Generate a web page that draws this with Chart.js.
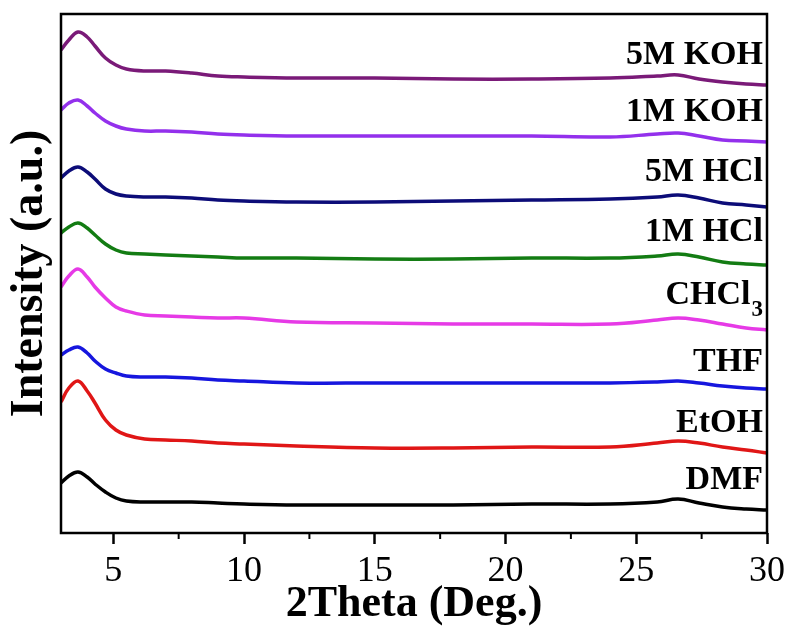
<!DOCTYPE html>
<html>
<head>
<meta charset="utf-8">
<title>XRD stability</title>
<script src="https://cdn.jsdelivr.net/npm/chart.js@4/dist/chart.umd.min.js"></script>
<style>
  html, body { margin: 0; padding: 0; background: #fff; }
  canvas { display: block; }
</style>
</head>
<body>
<canvas id="xrdChart" width="792" height="627"></canvas>
<script>
// Data ------------------------------------------------------------------------
const twoTheta = [3, 3.3, 3.65, 4.0, 4.3, 4.7, 5.1, 5.5, 6.2, 7, 8, 9, 10, 12, 15, 18, 21, 24, 25.8, 26.6, 27.4, 28.3, 29.2, 30];

// stacked intensities (a.u.), top curve first
const koh5M = [483, 493, 501, 496, 487, 475, 468, 464, 462, 462, 460, 457, 456, 455, 455, 454, 454, 455, 457, 458, 454, 451, 449, 448];
const koh1M = [423, 430, 433, 427, 420, 412, 407, 404, 402, 402, 401, 399, 398, 397, 397, 397, 397, 396, 399, 400, 397, 393, 392, 391];
const hcl5M = [355, 362, 366, 361, 354, 344, 339, 337, 336, 336, 335, 333, 332, 331, 331, 332, 333, 334, 336, 338, 335, 330, 328, 326];
const hcl1M = [300, 306, 310, 305, 298, 289, 283, 280, 279, 278, 277, 276, 275, 275, 274, 274, 275, 275, 277, 279, 276, 271, 269, 268];
const chcl3 = [246, 257, 264, 256, 246, 235, 226, 222, 218, 217, 216, 215, 215, 211, 210, 209, 209, 209, 213, 215, 213, 209, 205, 203];
const thf   = [178, 183, 186, 180, 172, 164, 160, 157, 156, 156, 155, 153, 152, 150, 150, 150, 150, 150, 151, 152, 150, 147, 145, 144];
const etoh  = [131, 145, 152, 142, 130, 113, 103, 98, 94, 93, 92, 90, 89, 87, 85, 85, 86, 86, 90, 92, 90, 86, 83, 80];
const dmf   = [50, 57, 61, 56, 49, 41, 35, 32, 31, 31, 31, 30, 29, 28, 28, 28, 29, 29, 31, 34, 30, 26, 24, 23];

const seriesNames = ['5M KOH', '1M KOH', '5M HCl', '1M HCl', 'CHCl3', 'THF', 'EtOH', 'DMF'];
const seriesData = [koh5M, koh1M, hcl5M, hcl1M, chcl3, thf, etoh, dmf];
const seriesColors = ['#7a1a78', '#9330ec', '#0c0c78', '#137c13', '#e63ae6', '#1616de', '#e01616', '#000000'];

// label anchors (a.u.) for the curve names on the right
const labelLevels = [478, 421, 361, 301, 238, 171, 110, 53];

const majorTicks = [5, 10, 15, 20, 25, 30];
const minorTicks = [7.5, 12.5, 17.5, 22.5, 27.5];

const serif = '"Liberation Serif", "Times New Roman", serif';

// Plugins ---------------------------------------------------------------------
const frameAndLabels = {
  id: 'frameAndLabels',
  afterDatasetsDraw(chart) {
    const { ctx, chartArea, scales } = chart;
    ctx.save();

    // box around the plot
    ctx.strokeStyle = '#000';
    ctx.lineWidth = 2.5;
    ctx.strokeRect(chartArea.left, chartArea.top, chartArea.right - chartArea.left, chartArea.bottom - chartArea.top);

    // minor ticks
    ctx.lineWidth = 2;
    for (let i = 0; i < minorTicks.length; i++) {
      const px = scales.x.getPixelForValue(minorTicks[i]);
      ctx.beginPath();
      ctx.moveTo(px, chartArea.bottom);
      ctx.lineTo(px, chartArea.bottom + 6);
      ctx.stroke();
    }

    // curve names
    ctx.fillStyle = '#000';
    ctx.textAlign = 'right';
    ctx.textBaseline = 'middle';
    const xr = chartArea.right - 4;
    for (let i = 0; i < seriesNames.length; i++) {
      const py = scales.y.getPixelForValue(labelLevels[i]);
      ctx.font = 'bold 34px ' + serif;
      if (seriesNames[i] === 'CHCl3') {
        ctx.font = 'bold 23px ' + serif;
        const subW = ctx.measureText('3').width;
        ctx.fillText('3', xr, py + 15);
        ctx.font = 'bold 34px ' + serif;
        ctx.fillText('CHCl', xr - subW - 1, py);
      } else {
        ctx.fillText(seriesNames[i], xr, py);
      }
    }
    ctx.restore();
  }
};

// Chart -----------------------------------------------------------------------
const datasets = [];
for (let i = 0; i < seriesData.length; i++) {
  datasets.push({
    label: seriesNames[i],
    data: twoTheta.map((x, j) => ({ x: x, y: seriesData[i][j] })),
    borderColor: seriesColors[i],
    backgroundColor: seriesColors[i],
    borderWidth: 3.5,
    pointRadius: 0,
    tension: 0.4,
    fill: false
  });
}

new Chart(document.getElementById('xrdChart'), {
  type: 'line',
  data: { datasets: datasets },
  options: {
    responsive: false,
    animation: false,
    layout: { padding: { top: 14, right: 25, left: 7, bottom: 0 } },
    plugins: {
      legend: { display: false },
      tooltip: { enabled: false }
    },
    scales: {
      x: {
        type: 'linear',
        min: 3,
        max: 30,
        afterBuildTicks: (scale) => { scale.ticks = majorTicks.map(v => ({ value: v })); },
        afterFit: (scale) => { scale.height = 94; },
        border: { display: false },
        grid: {
          drawOnChartArea: false,
          drawTicks: true,
          tickLength: 11,
          tickWidth: 2.5,
          tickColor: '#000'
        },
        ticks: {
          color: '#000',
          padding: 6,
          maxRotation: 0,
          font: { family: serif, size: 36 }
        },
        title: {
          display: true,
          text: '2Theta (Deg.)',
          color: '#000',
          padding: 0,
          font: { family: serif, size: 44, weight: 'bold', lineHeight: 1 }
        }
      },
      y: {
        min: 0,
        max: 519,
        afterFit: (scale) => { scale.width = 54; },
        border: { display: false },
        grid: { display: false },
        ticks: { display: false },
        title: {
          display: true,
          text: 'Intensity (a.u.)',
          color: '#000',
          padding: 0,
          font: { family: serif, size: 46, weight: 'bold', lineHeight: 1 }
        }
      }
    }
  },
  plugins: [frameAndLabels]
});
</script>
</body>
</html>
